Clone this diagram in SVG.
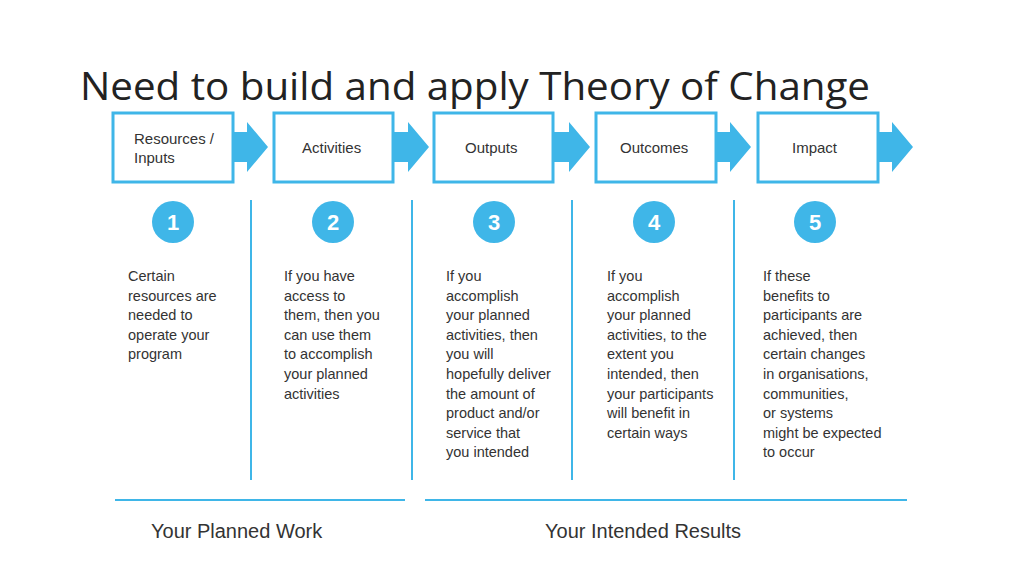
<svg xmlns="http://www.w3.org/2000/svg" width="1024" height="576" viewBox="0 0 1024 576">
<style>
.box{fill:#fff;stroke:#3fb6e8;stroke-width:3}
.arr{fill:#3fb6e8}
.circ{fill:#3fb6e8}
.num{font-family:"Liberation Sans",Arial,sans-serif;font-size:22px;font-weight:bold;fill:#fff;text-anchor:middle}
.lbl{font-family:"Liberation Sans",Arial,sans-serif;font-size:15px;fill:#333}
.body{font-family:"Liberation Sans",Arial,sans-serif;font-size:14.5px;fill:#333}
.sep{stroke:#3fb6e8;stroke-width:2}
.foot{font-family:"Liberation Sans",Arial,sans-serif;font-size:20px;fill:#333}
</style>
<rect width="1024" height="576" fill="#fff"/>
<text x="80" y="100" font-family="'Open Sans','Liberation Sans',sans-serif" font-size="38" fill="#222" textLength="790" lengthAdjust="spacingAndGlyphs">Need to build and apply Theory of Change</text>
<g id="connectors">
<polygon class="arr" points="233,132 247,132 247,122 268,147 247,172 247,162 233,162"/>
<polygon class="arr" points="393,132 408,132 408,122 429,147 408,172 408,162 393,162"/>
<polygon class="arr" points="553,132 569,132 569,122 590,147 569,172 569,162 553,162"/>
<polygon class="arr" points="716,132 730,132 730,122 751,147 730,172 730,162 716,162"/>
<polygon class="arr" points="878,132 892,132 892,122 913,147 892,172 892,162 878,162"/>
<line class="sep" x1="251" y1="200" x2="251" y2="480"/>
<line class="sep" x1="412" y1="200" x2="412" y2="480"/>
<line class="sep" x1="572" y1="200" x2="572" y2="480"/>
<line class="sep" x1="734" y1="200" x2="734" y2="480"/>
<line class="sep" x1="115" y1="500" x2="405" y2="500"/>
<line class="sep" x1="425" y1="500" x2="907" y2="500"/>
</g>
<g id="n1"><rect class="box" x="113" y="113" width="120" height="69"/>
<text class="lbl" x="134" y="144">Resources /</text><text class="lbl" x="134" y="163">Inputs</text>
<circle class="circ" cx="173" cy="222" r="21"/><text class="num" x="173" y="230">1</text>
<text class="body" x="128" y="281"><tspan x="128">Certain</tspan><tspan x="128" dy="19.6">resources are</tspan><tspan x="128" dy="19.6">needed to</tspan><tspan x="128" dy="19.6">operate your</tspan><tspan x="128" dy="19.6">program</tspan></text></g>
<g id="n2"><rect class="box" x="274" y="113" width="119" height="69"/>
<text class="lbl" x="302" y="153">Activities</text>
<circle class="circ" cx="333" cy="222" r="21"/><text class="num" x="333" y="230">2</text>
<text class="body" x="284" y="281"><tspan x="284">If you have</tspan><tspan x="284" dy="19.6">access to</tspan><tspan x="284" dy="19.6">them, then you</tspan><tspan x="284" dy="19.6">can use them</tspan><tspan x="284" dy="19.6">to accomplish</tspan><tspan x="284" dy="19.6">your planned</tspan><tspan x="284" dy="19.6">activities</tspan></text></g>
<g id="n3"><rect class="box" x="434" y="113" width="119" height="69"/>
<text class="lbl" x="465" y="153">Outputs</text>
<circle class="circ" cx="494" cy="222" r="21"/><text class="num" x="494" y="230">3</text>
<text class="body" x="446" y="281"><tspan x="446">If you</tspan><tspan x="446" dy="19.6">accomplish</tspan><tspan x="446" dy="19.6">your planned</tspan><tspan x="446" dy="19.6">activities, then</tspan><tspan x="446" dy="19.6">you will</tspan><tspan x="446" dy="19.6">hopefully deliver</tspan><tspan x="446" dy="19.6">the amount of</tspan><tspan x="446" dy="19.6">product and/or</tspan><tspan x="446" dy="19.6">service that</tspan><tspan x="446" dy="19.6">you intended</tspan></text></g>
<g id="n4"><rect class="box" x="596" y="113" width="120" height="69"/>
<text class="lbl" x="620" y="153">Outcomes</text>
<circle class="circ" cx="654" cy="222" r="21"/><text class="num" x="654" y="230">4</text>
<text class="body" x="607" y="281"><tspan x="607">If you</tspan><tspan x="607" dy="19.6">accomplish</tspan><tspan x="607" dy="19.6">your planned</tspan><tspan x="607" dy="19.6">activities, to the</tspan><tspan x="607" dy="19.6">extent you</tspan><tspan x="607" dy="19.6">intended, then</tspan><tspan x="607" dy="19.6">your participants</tspan><tspan x="607" dy="19.6">will benefit in</tspan><tspan x="607" dy="19.6">certain ways</tspan></text></g>
<g id="n5"><rect class="box" x="758" y="113" width="120" height="69"/>
<text class="lbl" x="792" y="153">Impact</text>
<circle class="circ" cx="815" cy="222" r="21"/><text class="num" x="815" y="230">5</text>
<text class="body" x="763" y="281"><tspan x="763">If these</tspan><tspan x="763" dy="19.6">benefits to</tspan><tspan x="763" dy="19.6">participants are</tspan><tspan x="763" dy="19.6">achieved, then</tspan><tspan x="763" dy="19.6">certain changes</tspan><tspan x="763" dy="19.6">in organisations,</tspan><tspan x="763" dy="19.6">communities,</tspan><tspan x="763" dy="19.6">or systems</tspan><tspan x="763" dy="19.6">might be expected</tspan><tspan x="763" dy="19.6">to occur</tspan></text></g>
<g id="footers">
<text class="foot" x="151" y="538">Your Planned Work</text>
<text class="foot" x="545" y="538">Your Intended Results</text>
</g>
</svg>
